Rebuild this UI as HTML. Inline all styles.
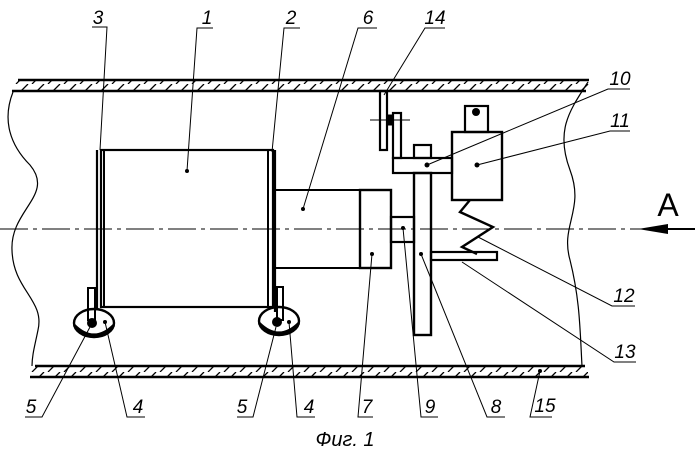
<!DOCTYPE html>
<html><head><meta charset="utf-8"><style>html,body{margin:0;padding:0;background:#fff}svg{display:block}</style></head>
<body>
<svg width="699" height="454" viewBox="0 0 699 454" xmlns="http://www.w3.org/2000/svg" font-family="'Liberation Sans', sans-serif">
<defs>
<pattern id="h" width="16" height="12" patternUnits="userSpaceOnUse"><line x1="0" y1="12" x2="12" y2="0" stroke="#000" stroke-width="1.3"/><line x1="16" y1="12" x2="28" y2="0" stroke="#000" stroke-width="1.3"/></pattern>
</defs>
<g stroke="#000" fill="none">
<!-- pipe walls -->
<rect x="14" y="80" width="575" height="11" fill="url(#h)" stroke="none"/>
<line x1="18" y1="80" x2="589" y2="80" stroke-width="2.5"/>
<line x1="12" y1="91" x2="586" y2="91" stroke-width="2.5"/>
<rect x="30" y="366" width="558" height="11" fill="url(#h)" stroke="none"/>
<line x1="35" y1="366" x2="585" y2="366" stroke-width="2.5"/>
<line x1="30" y1="377" x2="589" y2="377" stroke-width="2.5"/>
<!-- break lines -->
<path d="M13 92 C2 120 10 145 30 165 C55 195 10 210 12 250 C13 290 45 300 38 330 C35 345 32 355 32 366" stroke-width="1.2"/>
<path d="M588 82 C570 110 555 130 570 170 C585 210 560 225 570 260 C580 300 580 330 582 366" stroke-width="1.2"/>
<!-- center line -->
<line x1="0" y1="229" x2="645" y2="229" stroke-width="1" stroke-dasharray="28,5,4,5"/>
<!-- box 1 and frames -->
<rect x="101" y="150" width="172" height="157" stroke-width="2.2"/>
<line x1="97" y1="150" x2="97" y2="310" stroke-width="2.2"/>
<line x1="104" y1="150" x2="104" y2="307" stroke-width="2"/>
<line x1="268" y1="150" x2="268" y2="307" stroke-width="2"/>
<line x1="275" y1="150" x2="275" y2="312" stroke-width="2.2"/>
<!-- box 6, 7 -->
<rect x="275" y="190" width="85" height="78" stroke-width="2"/>
<rect x="360" y="190" width="31" height="78" stroke-width="2.4"/>
<!-- shaft 9 -->
<rect x="391" y="217" width="23" height="25" stroke-width="2.2"/>
<!-- plate 8 -->
<rect x="414" y="173" width="17" height="162" stroke-width="2.4"/>
<rect x="414" y="145" width="17" height="13" stroke-width="2.2"/>
<!-- lever 10 -->
<rect x="393" y="158" width="59" height="15" stroke-width="2.2"/>
<rect x="393" y="113" width="8" height="45" stroke-width="2.2"/>
<!-- bracket 14 -->
<rect x="380" y="91" width="7" height="59" stroke-width="2.2"/>
<line x1="370" y1="120" x2="410" y2="120" stroke-width="1"/>
<rect x="387" y="115" width="6" height="10" fill="#000" stroke-width="1"/>
<!-- box 11 -->
<rect x="452" y="132" width="50" height="68" stroke-width="2.4"/>
<rect x="465" y="106" width="23" height="26" stroke-width="2.2"/>
<!-- spring -->
<polyline points="470,200 460,212 493,227 462,247 477,254" stroke-width="2.4"/>
<!-- plate 13 -->
<rect x="431" y="252" width="66" height="8" stroke-width="2.2"/>
<!-- wheels -->
<ellipse cx="94" cy="323" rx="20" ry="14" stroke-width="2.4"/>
<path d="M74 325 Q94 345 114 325" stroke-width="3"/>
<ellipse cx="279" cy="321" rx="20" ry="14" stroke-width="2.4"/>
<path d="M259 323 Q279 343 299 323" stroke-width="3"/>
<rect x="88" y="288" width="7" height="32" stroke-width="2"/>
<rect x="277" y="287" width="6" height="33" stroke-width="2"/>
<!-- arrow A -->
<line x1="645" y1="229" x2="695" y2="229" stroke-width="2"/>
<polygon points="638,229 668,224 668,234" fill="#000" stroke="none"/>
<!-- leaders -->
<g stroke-width="1">
<polyline points="92,27 107,27 100,150"/>
<polyline points="213,28 197,28 187,171"/>
<polyline points="300,28 284,28 272,152"/>
<polyline points="377,28 358,28 303,209"/>
<polyline points="445,28 425,28 384,95"/>
<polyline points="630,89 608,89 427,165"/>
<polyline points="630,131 610,131 477,165"/>
<polyline points="635,306 612,306 478,237"/>
<polyline points="636,362 614,362 462,262"/>
<polyline points="552,417 530,417 540,371"/>
<polyline points="505,417 487,417 421,254"/>
<polyline points="438,417 421,417 403,228"/>
<polyline points="373,417 358,417 372,254"/>
<polyline points="25,417 42,417 90,327"/>
<polyline points="145,417 127,417 105,322"/>
<polyline points="237,417 253,417 276,327"/>
<polyline points="315,417 297,417 289,322"/>
</g>
</g>
<g fill="#000">
<circle cx="187" cy="171" r="2"/><circle cx="303" cy="209" r="2"/><circle cx="427" cy="165" r="2.5"/><circle cx="477" cy="165" r="2.5"/>
<circle cx="372" cy="254" r="2"/><circle cx="421" cy="254" r="2"/><circle cx="403" cy="228" r="2"/><circle cx="540" cy="371" r="2"/>
<circle cx="92" cy="323" r="5"/><circle cx="277" cy="322" r="5"/><circle cx="105" cy="322" r="2"/><circle cx="289" cy="322" r="2"/>
<circle cx="476" cy="112" r="4"/>
</g>
<g font-size="19" fill="#000" text-anchor="middle" font-style="italic">
<text x="98" y="24">3</text><text x="207" y="24">1</text><text x="291" y="24">2</text><text x="368" y="24">6</text><text x="435" y="24">14</text>
<text x="620" y="85">10</text><text x="620" y="127">11</text><text x="624" y="302">12</text><text x="625" y="358">13</text>
<text x="545" y="412">15</text><text x="496" y="413">8</text><text x="430" y="413">9</text><text x="367" y="413">7</text>
<text x="31" y="413">5</text><text x="138" y="413">4</text><text x="242" y="413">5</text><text x="309" y="413">4</text>
<text x="345" y="446" font-size="20">Фиг. 1</text>
</g>
<text x="668" y="216" font-size="32" text-anchor="middle">A</text>
</svg>
</body></html>
